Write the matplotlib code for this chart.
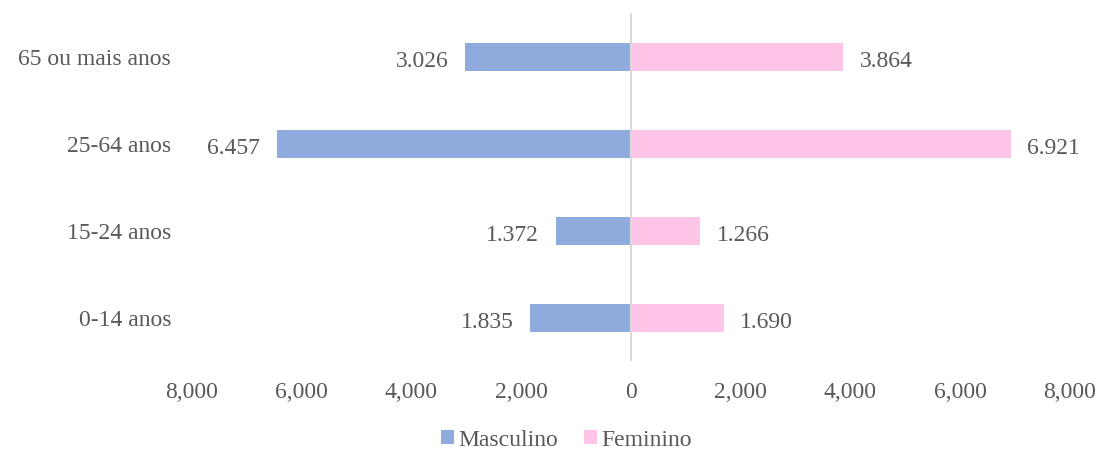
import matplotlib
matplotlib.use("Agg")
import matplotlib.pyplot as plt
from matplotlib.ticker import FuncFormatter

categories = ["0-14 anos", "15-24 anos", "25-64 anos", "65 ou mais anos"]
masculino = [1835, 1372, 6457, 3026]
feminino = [1690, 1266, 6921, 3864]
xticks = [-8000, -6000, -4000, -2000, 0, 2000, 4000, 6000, 8000]

plt.rcParams['font.family'] = ['Liberation Serif', 'DejaVu Serif']
txt = '#595959'
blue = '#8FAADC'
pink = '#FFC5E8'
fs = 17

fig = plt.figure(figsize=(11, 4.51), dpi=100)
ax = fig.add_axes([0.1745, 0.1985, 0.7982, 0.7716])

y = list(range(len(categories)))
neg = [-v for v in masculino]
bm = ax.barh(y, neg, height=0.32, color=blue, label='Masculino', zorder=2)
bf = ax.barh(y, feminino, height=0.32, color=pink, label='Feminino', zorder=2)

def fmt_pt(v):
    return f"{v:,}".replace(",", ".")

for yi, v in zip(y, masculino):
    ax.annotate(fmt_pt(v), (-v, yi), xytext=(-12, -1.5), textcoords='offset points',
                ha='right', va='center_baseline', fontsize=fs, color=txt)
for yi, v in zip(y, feminino):
    ax.annotate(fmt_pt(v), (v, yi), xytext=(12, -1.5), textcoords='offset points',
                ha='left', va='center_baseline', fontsize=fs, color=txt)

ax.axvline(0, color='#D9D9D9', lw=1.5, zorder=3)
ax.set_xlim(-8000, 8000)
ax.set_ylim(-0.5, 3.5)
ax.set_xticks(xticks)
ax.xaxis.set_major_formatter(FuncFormatter(lambda v, p: f"{abs(int(v)):,}"))
ax.set_yticks(y)
ax.set_yticklabels(categories)
ax.tick_params(axis='both', length=0, labelsize=fs, labelcolor=txt)
ax.tick_params(axis='x', pad=15)
ax.tick_params(axis='y', pad=15)
for s in ax.spines.values():
    s.set_visible(False)

fig.legend(handles=[bm, bf], loc='center', bbox_to_anchor=(0.515, 0.024),
           ncol=2, frameon=False, fontsize=fs, labelcolor=txt,
           handlelength=0.55, handleheight=0.55, handletextpad=0.2, columnspacing=1.1)

fig.savefig('out.png', dpi=100)
